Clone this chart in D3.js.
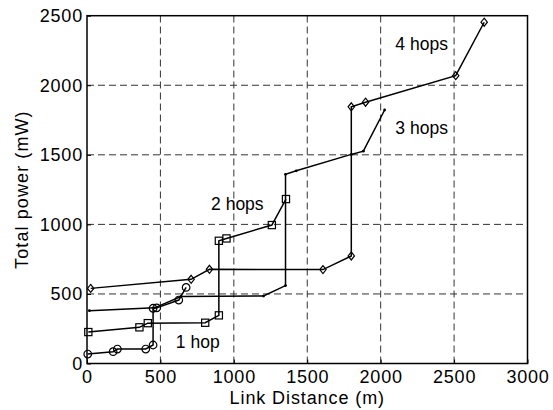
<!DOCTYPE html>
<html>
<head>
<meta charset="utf-8">
<script src="https://cdnjs.cloudflare.com/ajax/libs/d3/7.8.5/d3.min.js"></script>
<style>
  body { margin: 0; background: #fff; }
  text { font-family: Arial, "Liberation Sans", sans-serif; fill: #000; }
</style>
</head>
<body>
<div id="chart"></div>
<script>
// link distance (m) / total power (mW), one array per hop count
var hop1X = [5, 178, 207, 400, 450, 450, 475, 625, 675];
var hop1Y = [68, 85, 104, 104, 133, 397, 400, 456, 547];

var hop2X = [9, 357, 414, 805, 898, 898, 950, 1259, 1355];
var hop2Y = [226, 260, 290, 293, 346, 882, 899, 995, 1182];

var hop3X = [16, 460, 640, 1202, 1352, 1352, 1425, 1800, 1882, 2027];
var hop3Y = [380, 400, 482, 485, 560, 1360, 1385, 1503, 1526, 1822];

var hop4X = [25, 709, 834, 1607, 1800, 1800, 1897, 2511, 2705];
var hop4Y = [540, 605, 677, 675, 773, 1845, 1878, 2069, 2453];

var xTicks = [0, 500, 1000, 1500, 2000, 2500, 3000];
var yTicks = [0, 500, 1000, 1500, 2000, 2500];

var labels = [
  { text: "1 hop", x: 605, y: 115 },
  { text: "2 hops", x: 845, y: 1100 },
  { text: "3 hops", x: 2100, y: 1650 },
  { text: "4 hops", x: 2100, y: 2250 }
];

var width = 553;
var height = 410;
margin = { top: 15.7, right: 25.5, bottom: 46.5, left: 87 };

var x = d3.scaleLinear().domain([0, 3000]).range([margin.left, width - margin.right]);
var y = d3.scaleLinear().domain([0, 2500]).range([height - margin.bottom, margin.top]);

var svg = d3.select("#chart").append("svg")
  .attr("width", width)
  .attr("height", height);

// dashed grid
svg.append("g")
  .selectAll("line")
  .data(xTicks.slice(1, -1))
  .join("line")
  .attr("x1", d => x(d)).attr("x2", d => x(d))
  .attr("y1", y(0)).attr("y2", y(2500))
  .attr("stroke", "#333").attr("stroke-width", 1)
  .attr("stroke-dasharray", "7,4");
svg.append("g")
  .selectAll("line")
  .data(yTicks.slice(1, -1))
  .join("line")
  .attr("y1", d => y(d)).attr("y2", d => y(d))
  .attr("x1", x(0)).attr("x2", x(3000))
  .attr("stroke", "#333").attr("stroke-width", 1)
  .attr("stroke-dasharray", "7,4");

function xAxis(g) {
  g.attr("transform", `translate(0, ${y(0)})`)
    .call(d3.axisBottom(x).tickValues(xTicks).tickSize(-4).tickPadding(7).tickFormat(d3.format("d")))
    .call(g => g.select(".domain").remove());
}
function yAxis(g) {
  g.attr("transform", `translate(${x(0)}, 0)`)
    .call(d3.axisLeft(y).tickValues(yTicks).tickSize(-4).tickPadding(4).tickFormat(d3.format("d")))
    .call(g => g.select(".domain").remove());
}
svg.append("g").call(xAxis);
svg.append("g").call(yAxis);
svg.selectAll(".tick text")
  .style("font-size", "18px")
  .style("letter-spacing", "0.8px")
  .attr("font-family", null);
svg.selectAll(".tick line").attr("stroke", "#000");

// box
svg.append("rect")
  .attr("x", x(0)).attr("y", y(2500))
  .attr("width", x(3000) - x(0)).attr("height", y(0) - y(2500))
  .attr("fill", "none").attr("stroke", "#000").attr("stroke-width", 1.5);

var line = d3.line().x(d => x(d[0])).y(d => y(d[1]));

function drawSeries(xs, ys, marker) {
  var pts = xs.map((d, i) => [d, ys[i]]);
  var g = svg.append("g");
  g.append("path")
    .attr("d", line(pts))
    .attr("fill", "none")
    .attr("stroke", "#000")
    .attr("stroke-width", 1.5);
  var m = g.selectAll("g.m").data(pts).join("g")
    .attr("class", "m")
    .attr("transform", d => `translate(${x(d[0])},${y(d[1])})`);
  if (marker == "circle") {
    m.append("circle").attr("r", 3.8).attr("fill", "none").attr("stroke", "#000").attr("stroke-width", 1.2);
  } else if (marker == "square") {
    m.append("rect").attr("x", -3.6).attr("y", -3.6).attr("width", 7.2).attr("height", 7.2)
      .attr("fill", "none").attr("stroke", "#000").attr("stroke-width", 1.2);
  } else if (marker == "diamond") {
    m.append("path").attr("d", "M0,-4L3.2,0L0,4L-3.2,0Z")
      .attr("fill", "none").attr("stroke", "#000").attr("stroke-width", 1.2);
  } else {
    m.append("circle").attr("r", 1.4).attr("fill", "#000");
  }
}

drawSeries(hop1X, hop1Y, "circle");
drawSeries(hop2X, hop2Y, "square");
drawSeries(hop3X, hop3Y, "dot");
drawSeries(hop4X, hop4Y, "diamond");

svg.append("g")
  .selectAll("text")
  .data(labels)
  .join("text")
  .attr("x", d => x(d.x))
  .attr("y", d => y(d.y))
  .style("font-size", "17.5px")
  .text(d => d.text);

svg.append("text")
  .attr("x", (x(0) + x(3000)) / 2)
  .attr("y", 404)
  .attr("text-anchor", "middle")
  .style("font-size", "18px")
  .style("letter-spacing", "0.9px")
  .text("Link Distance (m)");

svg.append("text")
  .attr("transform", `translate(28, ${(y(0) + y(2500)) / 2}) rotate(-90)`)
  .attr("text-anchor", "middle")
  .style("font-size", "18px")
  .style("letter-spacing", "1.1px")
  .text("Total power (mW)");
</script>
</body>
</html>
